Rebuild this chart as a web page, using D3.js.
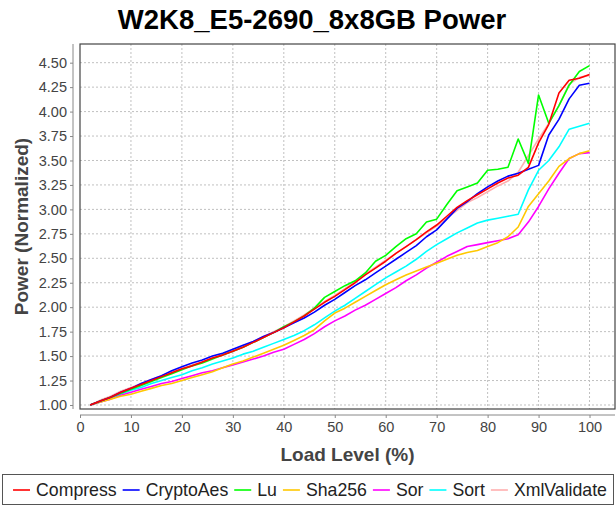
<!DOCTYPE html>
<html>
<head>
<meta charset="utf-8">
<script src="https://cdn.jsdelivr.net/npm/d3@7"></script>
<style>
    body { margin: 0; background: #fff; }
    text { font-family: "Liberation Sans", Arial, sans-serif; }
</style>
</head>
<body>
<div id="chartView"></div>
<script>
var width = 616,
    height = 506;

// load level (%) for every sample
var loadLevels = [2, 4, 6, 8, 10, 12, 14, 16, 18, 20, 22, 24, 26, 28, 30, 32, 34, 36, 38, 40,
    42, 44, 46, 48, 50, 52, 54, 56, 58, 60, 62, 64, 66, 68, 70, 72, 74, 76, 78, 80,
    82, 84, 86, 88, 90, 92, 94, 96, 98, 100];

var compress = [1.00, 1.04, 1.08, 1.13, 1.17, 1.21, 1.25, 1.29, 1.33, 1.37, 1.40, 1.44, 1.48, 1.51, 1.55, 1.59, 1.64, 1.69, 1.74, 1.79,
    1.85, 1.91, 1.98, 2.05, 2.11, 2.18, 2.25, 2.33, 2.40, 2.47, 2.55, 2.62, 2.69, 2.77, 2.84, 2.93, 3.02, 3.09, 3.15, 3.21,
    3.27, 3.32, 3.35, 3.43, 3.68, 3.87, 4.19, 4.32, 4.34, 4.38];
var cryptoAes = [1.00, 1.04, 1.08, 1.13, 1.17, 1.22, 1.26, 1.30, 1.35, 1.39, 1.43, 1.46, 1.50, 1.53, 1.57, 1.61, 1.65, 1.70, 1.74, 1.79,
    1.84, 1.89, 1.95, 2.02, 2.08, 2.15, 2.22, 2.28, 2.35, 2.42, 2.49, 2.56, 2.63, 2.72, 2.79, 2.90, 3.01, 3.08, 3.16, 3.23,
    3.29, 3.34, 3.37, 3.41, 3.45, 3.76, 3.92, 4.13, 4.27, 4.29];
var lu = [1.00, 1.04, 1.08, 1.12, 1.16, 1.20, 1.24, 1.28, 1.32, 1.36, 1.40, 1.43, 1.47, 1.51, 1.55, 1.59, 1.64, 1.69, 1.74, 1.80,
    1.85, 1.91, 1.99, 2.10, 2.16, 2.22, 2.27, 2.35, 2.47, 2.53, 2.62, 2.70, 2.75, 2.87, 2.90, 3.05, 3.19, 3.23, 3.27, 3.40,
    3.41, 3.43, 3.72, 3.47, 4.17, 3.88, 4.06, 4.27, 4.41, 4.47];
var sha256 = [1.00, 1.03, 1.06, 1.09, 1.11, 1.14, 1.17, 1.20, 1.22, 1.25, 1.28, 1.31, 1.34, 1.38, 1.42, 1.45, 1.49, 1.53, 1.57, 1.61,
    1.66, 1.71, 1.77, 1.86, 1.94, 1.99, 2.05, 2.11, 2.17, 2.23, 2.28, 2.33, 2.37, 2.41, 2.45, 2.49, 2.53, 2.56, 2.58, 2.62,
    2.66, 2.72, 2.82, 3.03, 3.16, 3.29, 3.44, 3.52, 3.57, 3.60];
var sor = [1.00, 1.03, 1.06, 1.10, 1.13, 1.16, 1.19, 1.22, 1.24, 1.27, 1.30, 1.33, 1.35, 1.38, 1.41, 1.44, 1.47, 1.50, 1.54, 1.57,
    1.62, 1.67, 1.73, 1.80, 1.86, 1.91, 1.97, 2.02, 2.08, 2.14, 2.20, 2.27, 2.33, 2.40, 2.46, 2.52, 2.57, 2.62, 2.64, 2.66,
    2.68, 2.70, 2.74, 2.87, 3.03, 3.21, 3.37, 3.52, 3.57, 3.58];
var sort = [1.00, 1.03, 1.07, 1.11, 1.15, 1.18, 1.22, 1.25, 1.28, 1.31, 1.35, 1.38, 1.42, 1.45, 1.48, 1.52, 1.55, 1.59, 1.63, 1.67,
    1.71, 1.76, 1.82, 1.89, 1.96, 2.02, 2.09, 2.16, 2.23, 2.30, 2.36, 2.42, 2.49, 2.57, 2.64, 2.70, 2.76, 2.81, 2.86, 2.89,
    2.91, 2.93, 2.95, 3.20, 3.40, 3.50, 3.64, 3.82, 3.85, 3.88];
var xmlValidate = [1.00, 1.05, 1.09, 1.14, 1.18, 1.22, 1.26, 1.30, 1.34, 1.37, 1.41, 1.44, 1.48, 1.52, 1.56, 1.60, 1.65, 1.70, 1.75, 1.80,
    1.86, 1.92, 1.99, 2.06, 2.12, 2.19, 2.26, 2.34, 2.41, 2.48, 2.55, 2.62, 2.69, 2.76, 2.83, 2.91, 2.99, 3.07, 3.12, 3.18,
    3.24, 3.29, 3.38, 3.55, 3.72, 3.88, 4.06, 4.28, 4.35, 4.37];

var seriesNames = ["Compress", "CryptoAes", "Lu", "Sha256", "Sor", "Sort", "XmlValidate"];
var seriesValues = [compress, cryptoAes, lu, sha256, sor, sort, xmlValidate];
var seriesColors = ["#ff0000", "#0000ff", "#00ff00", "#ffc800", "#ff00ff", "#00ffff", "#ffafaf"];

var xTicks = [0, 10, 20, 30, 40, 50, 60, 70, 80, 90, 100];
var yTicks = [1.00, 1.25, 1.50, 1.75, 2.00, 2.25, 2.50, 2.75, 3.00, 3.25, 3.50, 3.75, 4.00, 4.25, 4.50];

var plotLeft = 80, plotRight = 615, plotTop = 44, plotBottom = 409;

var svg = d3.select("#chartView").append("svg")
    .attr("width", width)
    .attr("height", height);

svg.append("rect")
    .attr("width", width)
    .attr("height", height)
    .attr("fill", "#fff");

var x = d3.scaleLinear().domain([0, 105]).range([plotLeft, plotRight]);
var y = d3.scaleLinear().domain([0.959, 4.691]).range([plotBottom, plotTop]);

// title
svg.append("text")
    .text("W2K8_E5-2690_8x8GB Power")
    .attr("x", 312)
    .attr("y", 29)
    .attr("text-anchor", "middle")
    .attr("font-weight", "bold")
    .attr("font-size", 27.5)
    .attr("fill", "#000");

// grid lines
var grid = svg.append("g");
grid.selectAll(".vgrid")
    .data(xTicks.filter(d => d > 0))
    .enter()
    .append("line")
    .attr("x1", d => x(d)).attr("x2", d => x(d))
    .attr("y1", plotTop).attr("y2", plotBottom)
    .attr("stroke", "#c0c0c0")
    .attr("stroke-dasharray", "2,2");
grid.selectAll(".hgrid")
    .data(yTicks)
    .enter()
    .append("line")
    .attr("x1", plotLeft).attr("x2", plotRight)
    .attr("y1", d => y(d)).attr("y2", d => y(d))
    .attr("stroke", "#c0c0c0")
    .attr("stroke-dasharray", "2,2");

// lines, last series first like the original
var line = d3.line()
    .x((d, i) => x(loadLevels[i]))
    .y(d => y(d));

var linesG = svg.append("g");
for (let i = seriesValues.length - 1; i >= 0; --i) {
    linesG.append("path")
        .attr("d", line(seriesValues[i]))
        .attr("fill", "none")
        .attr("stroke", seriesColors[i])
        .attr("stroke-width", 1.6)
        .attr("stroke-linejoin", "round");
}

// plot frame
svg.append("rect")
    .attr("x", plotLeft)
    .attr("y", plotTop)
    .attr("width", plotRight - plotLeft)
    .attr("height", plotBottom - plotTop)
    .attr("fill", "none")
    .attr("stroke", "#444")
    .attr("stroke-width", 1.2);

// axes
var yAxis = svg.append("g")
    .attr("transform", "translate(73,0)")
    .call(d3.axisLeft(y).tickValues(yTicks).tickFormat(d3.format(".2f")).tickSize(3).tickSizeOuter(0));
var xAxis = svg.append("g")
    .attr("transform", "translate(0,415)")
    .call(d3.axisBottom(x).tickValues(xTicks).tickSize(3).tickSizeOuter(0));

[yAxis, xAxis].forEach(function (ax) {
    ax.select(".domain").attr("stroke", "#888");
    ax.selectAll(".tick line").attr("stroke", "#888");
    ax.selectAll(".tick text")
        .attr("font-family", "Liberation Sans, Arial, sans-serif")
        .attr("font-size", 14.5)
        .attr("fill", "#444");
});
yAxis.select(".domain").attr("d", "M0," + plotTop + "V" + plotBottom);
xAxis.select(".domain").attr("d", "M" + plotLeft + ",0H" + plotRight);
yAxis.selectAll(".tick text").attr("x", -6);
xAxis.selectAll(".tick text").attr("y", 7);

svg.append("text")
    .text("Power (Normalized)")
    .attr("transform", "translate(28," + (plotTop + plotBottom) / 2 + ") rotate(-90)")
    .attr("text-anchor", "middle")
    .attr("font-weight", "bold")
    .attr("font-size", 19)
    .attr("fill", "#444");

svg.append("text")
    .text("Load Level (%)")
    .attr("x", (plotLeft + plotRight) / 2)
    .attr("y", 461)
    .attr("text-anchor", "middle")
    .attr("font-weight", "bold")
    .attr("font-size", 19)
    .attr("fill", "#444");

// legend
svg.append("rect")
    .attr("x", 2.5)
    .attr("y", 474.5)
    .attr("width", 611)
    .attr("height", 30)
    .attr("fill", "#fff")
    .attr("stroke", "#555");

var legendG = svg.append("g");
var lx = 0;
seriesNames.forEach(function (name, i) {
    legendG.append("line")
        .attr("x1", lx).attr("x2", lx + 17)
        .attr("y1", 490).attr("y2", 490)
        .attr("stroke", seriesColors[i])
        .attr("stroke-width", 1.6);
    var t = legendG.append("text")
        .text(name)
        .attr("x", lx + 23)
        .attr("y", 496)
        .attr("font-size", 17.7)
        .attr("fill", "#222");
    lx += 23 + t.node().getComputedTextLength() + 6;
});
lx -= 6;
legendG.attr("transform", "translate(" + (310 - lx / 2) + ",0)");
</script>
</body>
</html>
